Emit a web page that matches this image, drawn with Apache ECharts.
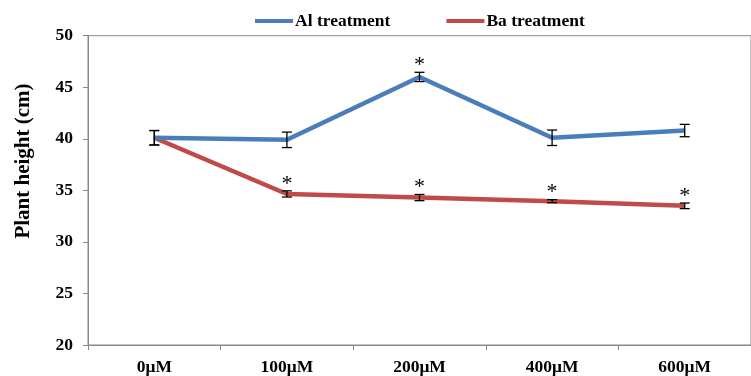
<!DOCTYPE html>
<html>
<head>
<meta charset="utf-8">
<script src="https://cdn.jsdelivr.net/npm/echarts@6/dist/echarts.min.js"></script>
<style>
  html, body { margin: 0; padding: 0; background: #fff; }
  #chart { width: 751px; height: 376px; }
</style>
</head>
<body>
<div id="chart"></div>
<script>
// data
var categories = ['0μM', '100μM', '200μM', '400μM', '600μM'];
var alMean = [40.1, 39.9, 46.0, 40.1, 40.8];
var alErr  = [0.7, 0.75, 0.45, 0.75, 0.6];
var alSig  = [false, false, true, false, false];
var baMean = [40.1, 34.65, 34.3, 33.95, 33.5];
var baErr  = [0.7, 0.3, 0.3, 0.15, 0.27];
var baSig  = [false, true, true, true, true];

var FONT = 'Liberation Serif';

// error bars + significance stars
function errorSeries(name, mean, err, sig) {
    var rows = mean.map(function (m, i) { return [i, m - err[i], m + err[i], sig[i] ? 1 : 0]; });
    return {
        name: name + ' err',
        type: 'custom',
        z: 5,
        silent: true,
        data: rows,
        renderItem: function (params, api) {
            var x = api.value(0);
            var lo = api.coord([x, api.value(1)]);
            var hi = api.coord([x, api.value(2)]);
            var w = 5;
            var st = { stroke: '#000', lineWidth: 1.3 };
            var kids = [
                { type: 'line', shape: { x1: lo[0], y1: lo[1], x2: hi[0], y2: hi[1] }, style: st },
                { type: 'line', shape: { x1: lo[0] - w, y1: lo[1], x2: lo[0] + w, y2: lo[1] }, style: st },
                { type: 'line', shape: { x1: hi[0] - w, y1: hi[1], x2: hi[0] + w, y2: hi[1] }, style: st }
            ];
            if (api.value(3)) {
                kids.push({
                    type: 'text',
                    style: {
                        text: '*', x: hi[0], y: hi[1] + 4,
                        align: 'center', verticalAlign: 'bottom',
                        font: '22px ' + FONT, fill: '#000'
                    }
                });
            }
            return { type: 'group', children: kids };
        }
    };
}

var chart = echarts.init(document.getElementById('chart'));
chart.setOption({
    animation: false,
    textStyle: { fontFamily: FONT },
    legend: {
        top: 7,
        left: 250,
        itemWidth: 38,
        itemHeight: 4,
        itemGap: 56,
        icon: 'rect',
        textStyle: { fontFamily: FONT, fontWeight: 'bold', fontSize: 17.5, color: '#000', padding: [0, 0, 0, -3] },
        data: ['Al treatment', 'Ba treatment']
    },
    graphic: [{
        type: 'text',
        x: 24,
        y: 161,
        rotation: Math.PI / 2,
        style: {
            text: 'Plant height (cm)',
            font: 'bold 21px ' + FONT,
            fill: '#000',
            align: 'center',
            verticalAlign: 'middle'
        }
    }],
    grid: {
        left: 88,
        top: 35.7,
        bottom: 31,
        width: 670,
        show: true,
        borderColor: '#888',
        borderWidth: 1
    },
    xAxis: {
        type: 'category',
        data: categories,
        boundaryGap: true,
        axisLine: { lineStyle: { color: '#888', width: 1 } },
        axisTick: { show: true, length: 5, lineStyle: { color: '#888' } },
        axisLabel: { fontFamily: FONT, fontWeight: 'bold', fontSize: 17.5, color: '#000', margin: 13 }
    },
    yAxis: {
        type: 'value',
        min: 20,
        max: 50,
        interval: 5,
        splitLine: { show: false },
        axisLine: { show: true, lineStyle: { color: '#888', width: 1 } },
        axisTick: { show: true, length: 5, lineStyle: { color: '#888' } },
        axisLabel: { fontFamily: FONT, fontWeight: 'bold', fontSize: 17.5, color: '#000', margin: 15 }
    },
    series: [
        {
            name: 'Al treatment',
            type: 'line',
            data: alMean,
            symbol: 'none',
            z: 3,
            lineStyle: { color: '#4a7ebb', width: 4.5 },
            itemStyle: { color: '#4a7ebb' }
        },
        {
            name: 'Ba treatment',
            type: 'line',
            data: baMean,
            symbol: 'none',
            z: 2,
            lineStyle: { color: '#be4b48', width: 4.5 },
            itemStyle: { color: '#be4b48' }
        },
        errorSeries('Al', alMean, alErr, alSig),
        errorSeries('Ba', baMean, baErr, baSig)
    ]
});
</script>
</body>
</html>
